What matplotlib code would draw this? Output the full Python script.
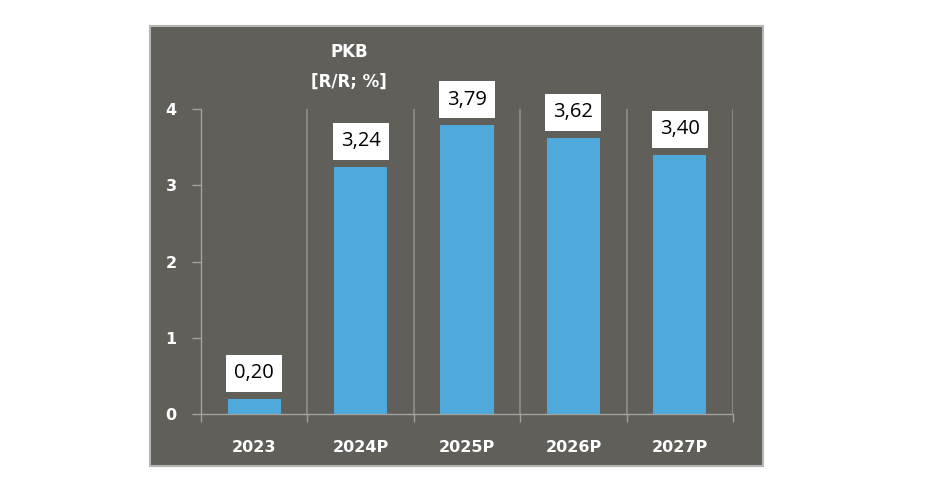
import matplotlib.pyplot as plt
from matplotlib.patches import Rectangle

categories = ['2023', '2024P', '2025P', '2026P', '2027P']
values = [0.20, 3.24, 3.79, 3.62, 3.40]
value_labels = ['0,20', '3,24', '3,79', '3,62', '3,40']
y_ticks = [0, 1, 2, 3, 4]

W, H = 948, 492
bg_gray = '#605f5a'
line_gray = '#a3a29d'
sep_gray = '#878681'
bar_blue = '#4faadb'

plt.rcParams['font.family'] = ['DejaVu Sans']

fig = plt.figure(figsize=(W / 100, H / 100), dpi=100)
fig.patch.set_facecolor('white')

# gray panel behind the chart
panel = Rectangle((150 / W, 1 - 466 / H), (763 - 150) / W, (466 - 26) / H,
                  transform=fig.transFigure, facecolor=bg_gray,
                  edgecolor='#b5b5b2', linewidth=1.5, zorder=-10)
fig.patches.append(panel)

ax = fig.add_axes([201 / W, 1 - 414 / H, (733 - 201) / W, (414 - 109) / H])
ax.set_facecolor('none')

x = list(range(len(categories)))
ax.bar(x, values, width=0.5, color=bar_blue, zorder=3)

ax.set_xlim(-0.5, len(categories) - 0.5)
ax.set_ylim(0, 4)

# separators between categories
for b in [i + 0.5 for i in range(len(categories))]:
    ax.vlines(b, 0, 4, color=sep_gray, linewidth=1.5, zorder=1)

for s in ['top', 'right']:
    ax.spines[s].set_visible(False)
for s in ['left', 'bottom']:
    ax.spines[s].set_color(line_gray)
    ax.spines[s].set_linewidth(1)

ax.set_yticks(y_ticks)
ax.set_yticklabels([str(t) for t in y_ticks])
ax.set_xticks(x)
ax.set_xticklabels(categories)
ax.set_xticks([i - 0.5 for i in range(len(categories) + 1)], minor=True)
ax.tick_params(axis='x', which='major', length=0, pad=19, labelsize=11.5,
               labelcolor='white')
ax.tick_params(axis='x', which='minor', length=6, color=line_gray, width=1)
ax.tick_params(axis='y', length=6.5, color=line_gray, width=1, pad=11,
               labelsize=11.5, labelcolor='white')
for lab in ax.get_xticklabels() + ax.get_yticklabels():
    lab.set_fontweight('bold')

# white label boxes above the bars
px = 4 / 305.0  # data units per pixel on the y axis
box_w = 56 / 106.4
box_gap, box_h = 7 * px, 37 * px
ax.bar(x, [box_h] * len(x), width=box_w, bottom=[v + box_gap for v in values],
       color='white', zorder=4, clip_on=False)
for xi, v, lab in zip(x, values, value_labels):
    ax.text(xi, v + box_gap + box_h / 2, lab, ha='center', va='center',
            fontsize=14.5, color='black', family=['Open Sans', 'DejaVu Sans'],
            zorder=5, clip_on=False)

fig.text(349 / W, 1 - 52 / H, 'PKB', ha='center', va='center',
         color='white', fontsize=12, fontweight='bold')
fig.text(349 / W, 1 - 82 / H, '[R/R; %]', ha='center', va='center',
         color='white', fontsize=12, fontweight='bold')

fig.savefig('out.png', dpi=100, facecolor='white')
